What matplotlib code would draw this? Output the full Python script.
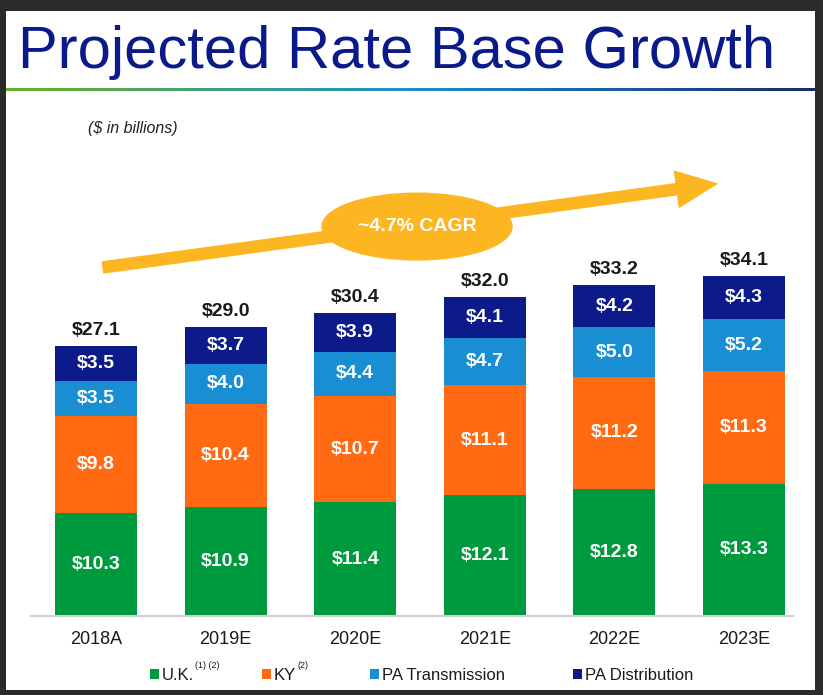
import numpy as np
import matplotlib
matplotlib.use("Agg")
import matplotlib.pyplot as plt
from matplotlib.patches import Rectangle, Ellipse, FancyArrowPatch, ArrowStyle
from matplotlib.colors import LinearSegmentedColormap

plt.rcParams['font.family'] = ['Liberation Sans', 'DejaVu Sans']

# data ($ in billions)
years = ['2018A', '2019E', '2020E', '2021E', '2022E', '2023E']
uk = [10.3, 10.9, 11.4, 12.1, 12.8, 13.3]
ky = [9.8, 10.4, 10.7, 11.1, 11.2, 11.3]
pa_trans = [3.5, 4.0, 4.4, 4.7, 5.0, 5.2]
pa_dist = [3.5, 3.7, 3.9, 4.1, 4.2, 4.3]
totals = [27.1, 29.0, 30.4, 32.0, 33.2, 34.1]

series = [uk, ky, pa_trans, pa_dist]
colors = ['#009a3e', '#ff6a13', '#1a8ed3', '#0c1a8a']
gold = '#fbb622'

W, H = 823, 695
fig = plt.figure(figsize=(W / 100, H / 100), dpi=100, facecolor='#2b2b2b')

def fx(px):
    return px / W

def fy(py):
    return 1 - py / H

# white slide on dark screenshot frame
fig.patches.append(Rectangle((fx(6), fy(690)), fx(815 - 6), (690 - 11) / H,
                             transform=fig.transFigure, facecolor='white',
                             edgecolor='none', zorder=-5))

# title and gradient rule
fig.text(fx(18), fy(68), 'Projected Rate Base Growth', fontsize=43,
         color='#0a1a8a', va='baseline', ha='left')
grad_ax = fig.add_axes([fx(6), fy(91), fx(815 - 6), 3.5 / H])
cmap = LinearSegmentedColormap.from_list('rule', ['#6ab023', '#1a90d0', '#1a2a6c'])
grad_ax.imshow(np.linspace(0, 1, 256).reshape(1, -1), aspect='auto', cmap=cmap)
grad_ax.axis('off')

fig.text(fx(88), fy(128), '($ in billions)', fontsize=11.5, style='italic',
         color='#222222', va='center', ha='left')

# chart axes
ax = fig.add_axes([fx(31), fy(616), fx(793 - 31), (616 - 110) / H])
ax.set_facecolor('none')
x = np.arange(len(years))
bottom = np.zeros(len(years))
for vals, c in zip(series, colors):
    bars = ax.bar(x, vals, width=0.633, bottom=bottom, color=c, zorder=2)
    for b, v, y0 in zip(bars, vals, bottom):
        ax.text(b.get_x() + b.get_width() / 2, y0 + v / 2, f'${v:.1f}',
                ha='center', va='center', color='white', fontsize=14,
                fontweight='bold', zorder=3)
    bottom += np.array(vals)

for xi, t in zip(x, totals):
    ax.annotate(f'${t:.1f}', (xi, t), xytext=(0, 5), textcoords='offset points',
                ha='center', va='bottom', fontsize=14, fontweight='bold',
                color='#1a1a1a')

ax.set_xlim(-0.5015, 5.378)
ax.set_ylim(0, 506 / 9.96)
ax.set_xticks(x)
ax.set_xticklabels(years, fontsize=13, color='#1a1a1a')
ax.tick_params(axis='x', length=0, pad=11)
ax.set_yticks([])
for s in ['top', 'left', 'right']:
    ax.spines[s].set_visible(False)
ax.spines['bottom'].set_color('#cfcfcf')
ax.spines['bottom'].set_linewidth(1.5)

# CAGR arrow and bubble
arrow = FancyArrowPatch((0.054, 35.0), (4.79, 43.4),
                        arrowstyle=ArrowStyle.Simple(head_length=29, head_width=26, tail_width=8),
                        mutation_scale=1, color=gold, shrinkA=0, shrinkB=0, zorder=1)
ax.add_patch(arrow)
ax.add_patch(Ellipse((2.477, 39.1), 1.466, 6.7, color=gold, zorder=1))
ax.text(2.477, 39.1, '~4.7% CAGR', ha='center', va='center', color='white',
        fontsize=14, fontweight='bold', zorder=2)

# legend
legend_items = [('U.K.', '(1) (2)', 150), ('KY', '(2)', 262),
                ('PA Transmission', '', 370), ('PA Distribution', '', 573)]
for (lab, sup, px), c in zip(legend_items, colors):
    fig.patches.append(Rectangle((fx(px), fy(679)), fx(9), 10 / H,
                                 transform=fig.transFigure, facecolor=c,
                                 edgecolor='none'))
    t = fig.text(fx(px + 12), fy(675), lab, fontsize=12, color='#1a1a1a',
                 va='center', ha='left')
    if sup:
        fig.canvas.draw()
        bb = t.get_window_extent()
        fig.text(bb.x1 / W + fx(1), fy(665), sup, fontsize=6.5, color='#1a1a1a',
                 va='center', ha='left')

fig.savefig('out.png', dpi=100, facecolor=fig.get_facecolor())
